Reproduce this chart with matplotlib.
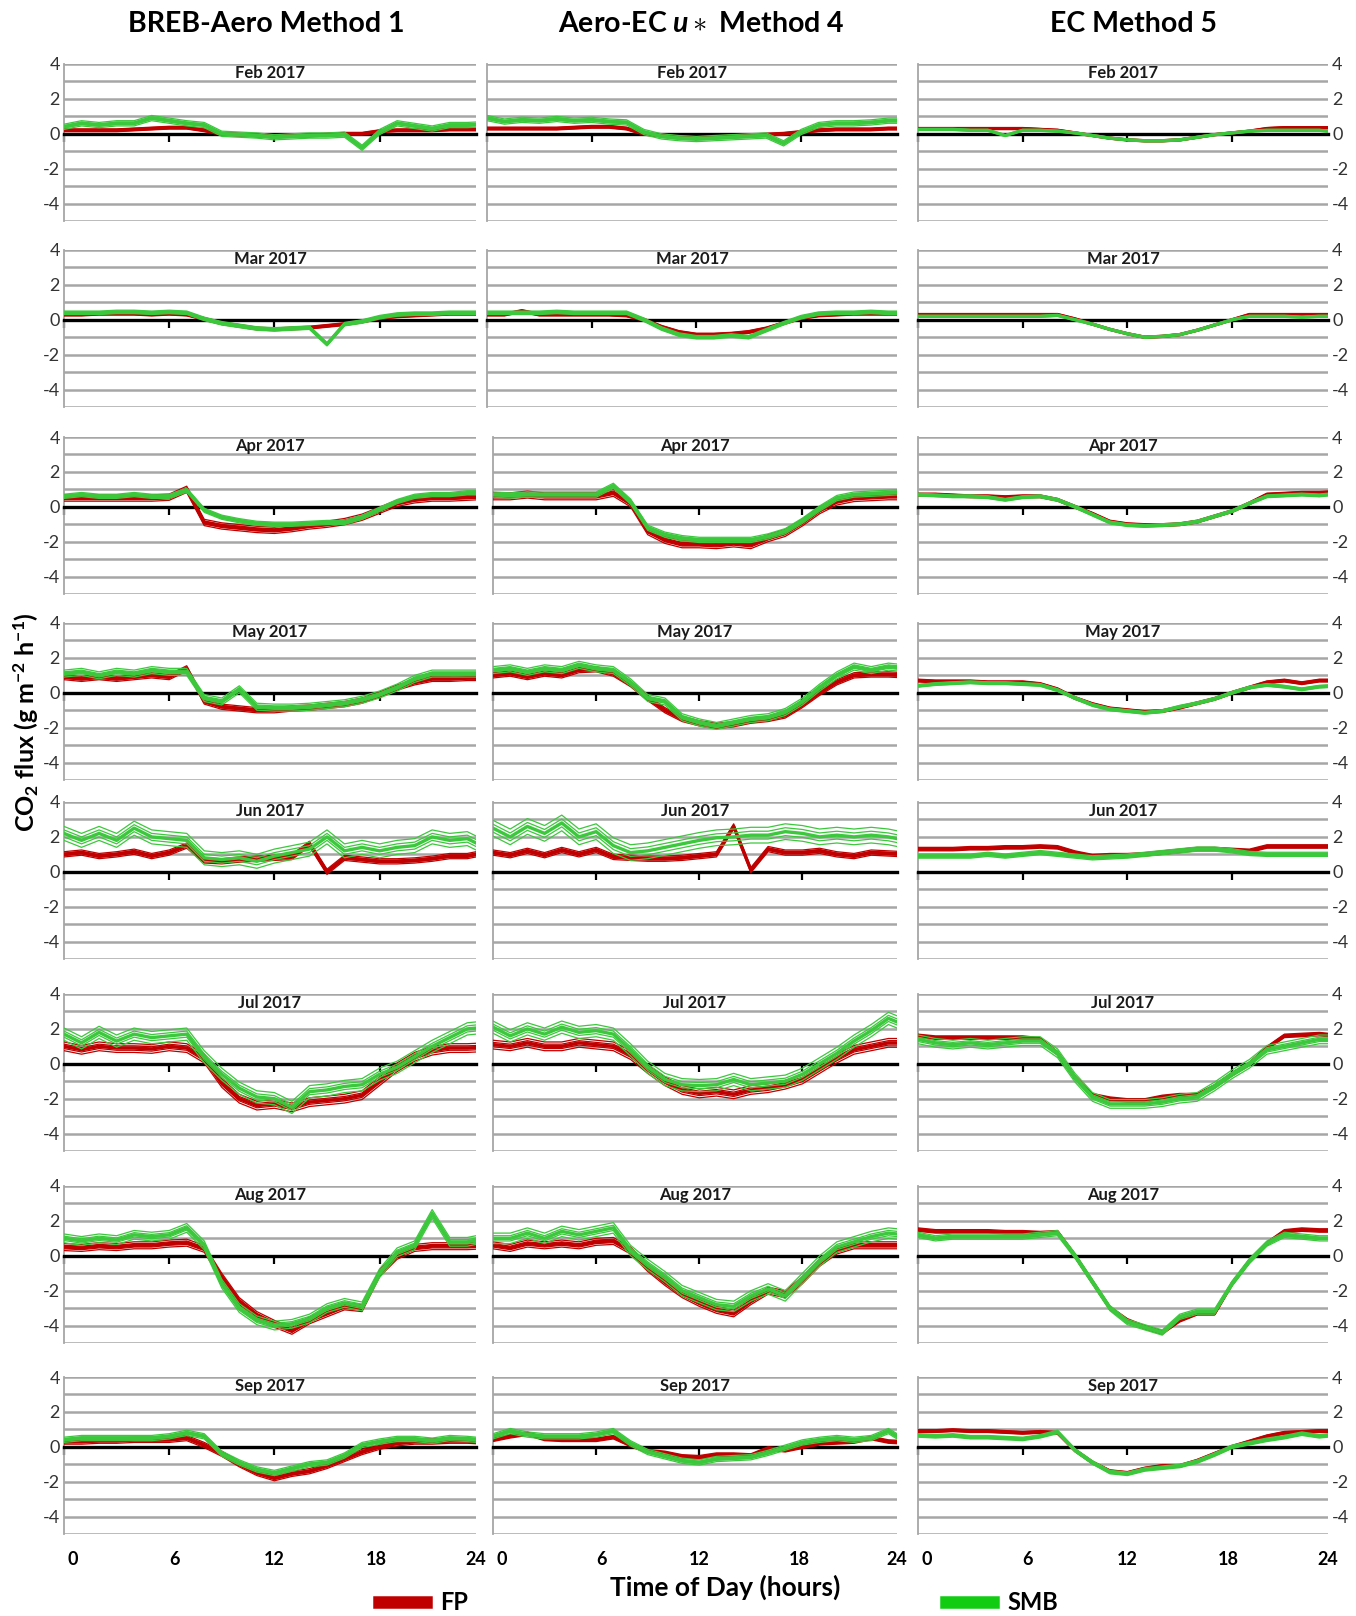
import numpy as np
import matplotlib
matplotlib.use('Agg')
import matplotlib.pyplot as plt
from matplotlib.lines import Line2D

plt.rcParams['font.family'] = ['Lato', 'DejaVu Sans']
plt.rcParams['axes.unicode_minus'] = False
plt.rcParams['mathtext.fontset'] = 'custom'
plt.rcParams['mathtext.rm'] = 'Lato:bold'
plt.rcParams['mathtext.bf'] = 'Lato:bold'
plt.rcParams['mathtext.it'] = 'Lato:bold:italic'

'''
Data read from the figure (hourly values, 0-24 h)
'''
hours = list(range(25))
months = ['Feb 2017', 'Mar 2017', 'Apr 2017', 'May 2017',
          'Jun 2017', 'Jul 2017', 'Aug 2017', 'Sep 2017']
methods = ['BREB-Aero Method 1', r'Aero-EC $u\ast$ Method 4', 'EC Method 5']

# Feb
feb_m1_fp = [0.2,0.2,0.2,0.2,0.25,0.3,0.35,0.35,0.2,0.0,-0.05,-0.1,-0.15,-0.1,-0.1,-0.05,0.0,0.0,0.15,0.2,0.2,0.2,0.25,0.25,0.25]
feb_m1_smb = [0.4,0.6,0.5,0.6,0.6,0.9,0.75,0.6,0.5,0.0,-0.05,-0.1,-0.2,-0.15,-0.1,-0.1,-0.05,-0.8,0.1,0.6,0.45,0.3,0.5,0.5,0.55]
feb_m4_fp = [0.3,0.3,0.3,0.3,0.3,0.35,0.4,0.4,0.3,0.0,-0.1,-0.2,-0.25,-0.2,-0.15,-0.1,-0.05,0.0,0.1,0.2,0.25,0.25,0.25,0.3,0.3]
feb_m4_smb = [0.9,0.7,0.8,0.75,0.85,0.75,0.8,0.7,0.65,0.1,-0.15,-0.25,-0.3,-0.25,-0.2,-0.15,-0.1,-0.55,0.1,0.5,0.6,0.6,0.65,0.75,0.75]
feb_m5_fp = [0.3,0.3,0.3,0.3,0.3,0.3,0.3,0.25,0.2,0.05,-0.1,-0.25,-0.35,-0.4,-0.4,-0.35,-0.2,-0.05,0.05,0.15,0.3,0.35,0.35,0.35,0.35]
feb_m5_smb = [0.25,0.25,0.25,0.2,0.2,-0.1,0.2,0.2,0.15,0.05,-0.1,-0.25,-0.35,-0.4,-0.4,-0.35,-0.2,-0.05,0.05,0.15,0.2,0.2,0.2,0.2,0.1]

# Mar
mar_m1_fp = [0.3,0.3,0.35,0.35,0.35,0.3,0.35,0.3,0.05,-0.2,-0.35,-0.5,-0.55,-0.5,-0.45,-0.35,-0.25,-0.1,0.1,0.2,0.25,0.3,0.35,0.35,0.35]
mar_m1_smb = [0.4,0.4,0.4,0.45,0.45,0.4,0.45,0.4,0.05,-0.2,-0.35,-0.5,-0.55,-0.5,-0.45,-1.4,-0.25,-0.1,0.15,0.3,0.35,0.35,0.4,0.4,0.4]
mar_m4_fp = [0.3,0.3,0.5,0.3,0.3,0.3,0.3,0.3,0.25,0.0,-0.4,-0.7,-0.85,-0.85,-0.8,-0.7,-0.5,-0.2,0.1,0.25,0.3,0.35,0.35,0.35,0.35]
mar_m4_smb = [0.4,0.4,0.4,0.4,0.45,0.4,0.4,0.4,0.4,0.0,-0.5,-0.85,-1.0,-1.0,-0.9,-1.0,-0.6,-0.2,0.15,0.35,0.4,0.4,0.45,0.4,0.4]
mar_m5_fp = [0.3,0.3,0.3,0.3,0.3,0.3,0.3,0.3,0.3,0.05,-0.25,-0.55,-0.8,-1.0,-0.95,-0.85,-0.6,-0.3,0.0,0.3,0.3,0.3,0.3,0.3,0.3]
mar_m5_smb = [0.2,0.2,0.2,0.2,0.2,0.2,0.2,0.2,0.25,0.0,-0.25,-0.55,-0.8,-1.0,-0.95,-0.85,-0.6,-0.3,0.0,0.2,0.2,0.2,0.15,0.2,0.2]

# Apr
apr_m1_fp = [0.5,0.5,0.5,0.5,0.5,0.5,0.55,1.0,-0.9,-1.1,-1.2,-1.3,-1.35,-1.25,-1.1,-1.0,-0.85,-0.6,-0.2,0.2,0.4,0.5,0.5,0.55,0.6]
apr_m1_smb = [0.6,0.7,0.6,0.6,0.7,0.6,0.6,0.95,-0.2,-0.6,-0.8,-0.95,-1.0,-1.0,-0.95,-0.9,-0.9,-0.6,-0.15,0.3,0.6,0.7,0.7,0.8,0.8]
apr_m4_fp = [0.6,0.6,0.7,0.6,0.6,0.6,0.6,0.8,0.2,-1.4,-1.9,-2.15,-2.15,-2.2,-2.1,-2.2,-1.8,-1.5,-0.9,-0.2,0.3,0.5,0.55,0.6,0.6]
apr_m4_smb = [0.7,0.65,0.7,0.7,0.7,0.7,0.7,1.2,0.3,-1.2,-1.6,-1.8,-1.9,-1.9,-1.9,-1.9,-1.7,-1.4,-0.8,-0.1,0.5,0.7,0.75,0.8,0.85]
apr_m5_fp = [0.7,0.7,0.65,0.6,0.6,0.55,0.6,0.6,0.4,0.0,-0.4,-0.85,-1.0,-1.05,-1.05,-1.0,-0.85,-0.55,-0.25,0.2,0.7,0.75,0.8,0.8,0.85]
apr_m5_smb = [0.7,0.65,0.6,0.6,0.55,0.4,0.55,0.6,0.4,0.0,-0.45,-0.9,-1.05,-1.1,-1.05,-1.0,-0.85,-0.55,-0.25,0.2,0.6,0.65,0.7,0.65,0.75]

# May
may_m1_fp = [0.9,0.8,0.9,0.8,0.9,1.0,0.9,1.4,-0.5,-0.8,-0.9,-1.0,-1.0,-0.9,-0.85,-0.75,-0.65,-0.45,-0.1,0.3,0.6,0.8,0.8,0.85,0.85]
may_m1_smb = [1.1,1.2,1.0,1.2,1.1,1.3,1.2,1.2,-0.3,-0.5,0.2,-0.8,-0.85,-0.85,-0.8,-0.7,-0.6,-0.4,-0.1,0.3,0.8,1.1,1.1,1.1,1.1]
may_m4_fp = [1.0,1.1,0.9,1.1,1.0,1.3,1.35,1.1,0.5,-0.3,-1.0,-1.5,-1.75,-1.9,-1.8,-1.6,-1.5,-1.3,-0.7,0.0,0.6,1.0,1.05,1.05,1.0]
may_m4_smb = [1.3,1.4,1.2,1.4,1.3,1.6,1.4,1.3,0.6,-0.3,-0.5,-1.4,-1.7,-1.9,-1.7,-1.5,-1.4,-1.1,-0.5,0.3,1.0,1.5,1.3,1.5,1.4]
may_m5_fp = [0.7,0.65,0.65,0.65,0.6,0.6,0.6,0.5,0.2,-0.3,-0.65,-0.9,-1.0,-1.1,-1.05,-0.85,-0.6,-0.35,0.0,0.3,0.6,0.7,0.55,0.7,0.7]
may_m5_smb = [0.4,0.5,0.55,0.6,0.55,0.55,0.5,0.45,0.15,-0.3,-0.7,-0.95,-1.05,-1.15,-1.05,-0.8,-0.6,-0.35,0.0,0.3,0.45,0.35,0.2,0.35,0.4]

# Jun
jun_m1_fp = [1.0,1.1,0.9,1.0,1.15,0.9,1.1,1.5,0.65,0.6,0.7,0.75,0.8,0.85,1.6,0.0,0.8,0.7,0.6,0.6,0.65,0.75,0.9,0.9,1.1]
jun_m1_smb = [2.2,1.8,2.2,1.8,2.5,2.0,1.9,1.8,0.8,0.7,0.8,0.6,0.9,1.1,1.3,2.0,1.2,1.4,1.2,1.4,1.5,2.0,1.8,1.9,1.4]
jun_m4_fp = [1.1,0.95,1.2,0.95,1.25,1.0,1.25,0.85,0.8,0.75,0.75,0.8,0.9,1.0,2.6,0.1,1.3,1.1,1.1,1.2,1.0,0.9,1.1,1.05,1.0]
jun_m4_smb = [2.5,2.0,2.6,2.2,2.8,2.0,2.3,1.5,1.1,1.2,1.4,1.6,1.8,1.95,2.0,2.1,2.1,2.3,2.2,2.0,2.1,2.0,2.1,2.0,1.8]
jun_m5_fp = [1.3,1.3,1.3,1.35,1.35,1.4,1.4,1.45,1.4,1.1,0.9,0.95,0.95,1.0,1.1,1.2,1.3,1.3,1.25,1.2,1.45,1.45,1.45,1.45,1.45]
jun_m5_smb = [0.9,0.9,0.9,0.9,1.0,0.9,1.0,1.1,1.0,0.9,0.8,0.85,0.9,1.0,1.1,1.2,1.3,1.3,1.2,1.05,1.0,1.0,1.0,1.0,1.0]

# Jul
jul_m1_fp = [1.0,0.8,1.0,0.9,0.9,0.85,1.0,0.9,0.3,-1.1,-2.0,-2.4,-2.3,-2.5,-2.2,-2.1,-2.0,-1.8,-1.0,-0.2,0.4,0.75,0.9,0.9,0.95]
jul_m1_smb = [1.7,1.2,1.8,1.3,1.7,1.5,1.6,1.7,0.4,-0.6,-1.4,-1.9,-2.0,-2.5,-1.6,-1.5,-1.3,-1.2,-0.6,-0.2,0.4,1.0,1.5,2.0,2.1]
jul_m4_fp = [1.1,1.0,1.2,1.0,1.0,1.2,1.1,1.0,0.5,-0.3,-1.0,-1.5,-1.7,-1.6,-1.75,-1.5,-1.4,-1.2,-0.9,-0.3,0.3,0.8,1.0,1.2,1.2]
jul_m4_smb = [2.1,1.6,2.0,1.7,2.1,1.8,1.9,1.7,0.8,-0.2,-0.9,-1.2,-1.25,-1.2,-0.9,-1.2,-1.1,-1.0,-0.6,0.0,0.6,1.3,1.9,2.6,2.2]
jul_m5_fp = [1.6,1.5,1.5,1.5,1.5,1.5,1.5,1.4,0.6,-0.8,-1.8,-2.0,-2.1,-2.1,-1.9,-1.8,-1.8,-1.3,-0.6,0.0,0.9,1.6,1.65,1.7,1.6]
jul_m5_smb = [1.4,1.2,1.1,1.2,1.1,1.2,1.3,1.3,0.6,-0.8,-1.9,-2.3,-2.3,-2.3,-2.2,-2.0,-1.9,-1.3,-0.6,0.0,0.8,1.0,1.2,1.4,1.4]

# Aug
aug_m1_fp = [0.5,0.45,0.55,0.5,0.6,0.6,0.7,0.75,0.4,-1.2,-2.6,-3.4,-3.9,-4.3,-3.7,-3.3,-2.9,-3.0,-1.0,0.0,0.45,0.55,0.55,0.55,0.6]
aug_m1_smb = [1.0,0.85,1.0,0.9,1.2,1.1,1.2,1.6,0.6,-1.6,-3.0,-3.7,-4.0,-3.9,-3.6,-3.0,-2.7,-2.9,-1.0,0.2,0.6,2.4,0.8,0.8,1.0]
aug_m4_fp = [0.6,0.45,0.7,0.6,0.7,0.6,0.8,0.85,0.3,-0.7,-1.5,-2.2,-2.7,-3.1,-3.3,-2.6,-2.0,-2.2,-1.4,-0.4,0.3,0.6,0.6,0.6,0.6]
aug_m4_smb = [1.0,1.0,1.3,1.0,1.4,1.2,1.4,1.6,0.3,-0.5,-1.2,-2.0,-2.4,-2.8,-2.9,-2.3,-1.9,-2.3,-1.3,-0.3,0.5,0.8,1.1,1.3,1.2]
aug_m5_fp = [1.5,1.4,1.4,1.4,1.4,1.35,1.35,1.3,1.35,0.0,-1.5,-3.0,-3.7,-4.1,-4.4,-3.7,-3.3,-3.3,-1.6,-0.3,0.7,1.4,1.5,1.45,1.45]
aug_m5_smb = [1.2,1.0,1.1,1.1,1.1,1.1,1.1,1.2,1.3,0.0,-1.5,-3.0,-3.8,-4.1,-4.4,-3.5,-3.2,-3.2,-1.6,-0.3,0.7,1.2,1.1,1.0,1.0]

# Sep
sep_m1_fp = [0.3,0.3,0.35,0.35,0.4,0.4,0.4,0.5,0.1,-0.4,-1.0,-1.5,-1.8,-1.55,-1.4,-1.1,-0.7,-0.3,0.0,0.2,0.3,0.3,0.35,0.35,0.3]
sep_m1_smb = [0.4,0.5,0.5,0.5,0.5,0.5,0.6,0.8,0.6,-0.4,-0.9,-1.3,-1.5,-1.25,-1.0,-0.9,-0.5,0.1,0.3,0.45,0.45,0.35,0.5,0.45,0.35]
sep_m4_fp = [0.4,0.6,0.75,0.45,0.4,0.4,0.4,0.55,0.1,-0.25,-0.35,-0.55,-0.6,-0.45,-0.45,-0.5,-0.1,-0.2,0.0,0.2,0.25,0.3,0.5,0.3,0.25]
sep_m4_smb = [0.6,0.9,0.7,0.6,0.6,0.6,0.7,0.9,0.2,-0.3,-0.55,-0.8,-0.9,-0.7,-0.65,-0.6,-0.35,-0.05,0.25,0.4,0.5,0.4,0.5,0.9,0.3]
sep_m5_fp = [0.9,0.9,0.95,0.9,0.9,0.85,0.8,0.85,0.8,-0.2,-0.9,-1.4,-1.5,-1.25,-1.1,-1.1,-0.8,-0.4,0.0,0.3,0.6,0.8,0.85,0.9,0.9]
sep_m5_smb = [0.65,0.6,0.65,0.55,0.55,0.5,0.45,0.6,0.85,-0.2,-0.9,-1.45,-1.55,-1.3,-1.2,-1.1,-0.85,-0.45,0.0,0.2,0.4,0.55,0.75,0.6,0.7]

# half width of the band of thin lines round each mean line (per month)
m1_fp_spread = [0.08, 0.08, 0.18, 0.15, 0.15, 0.25, 0.2, 0.15]
m1_smb_spread = [0.15, 0.1, 0.12, 0.2, 0.4, 0.35, 0.25, 0.15]
m4_fp_spread = [0.08, 0.08, 0.2, 0.15, 0.15, 0.25, 0.2, 0.1]
m4_smb_spread = [0.15, 0.1, 0.15, 0.2, 0.45, 0.35, 0.3, 0.15]
m5_fp_spread = [0.05, 0.05, 0.08, 0.08, 0.1, 0.1, 0.1, 0.08]
m5_smb_spread = [0.05, 0.05, 0.08, 0.08, 0.12, 0.25, 0.15, 0.1]

fp_data = [
    [feb_m1_fp, mar_m1_fp, apr_m1_fp, may_m1_fp, jun_m1_fp, jul_m1_fp, aug_m1_fp, sep_m1_fp],
    [feb_m4_fp, mar_m4_fp, apr_m4_fp, may_m4_fp, jun_m4_fp, jul_m4_fp, aug_m4_fp, sep_m4_fp],
    [feb_m5_fp, mar_m5_fp, apr_m5_fp, may_m5_fp, jun_m5_fp, jul_m5_fp, aug_m5_fp, sep_m5_fp],
]
smb_data = [
    [feb_m1_smb, mar_m1_smb, apr_m1_smb, may_m1_smb, jun_m1_smb, jul_m1_smb, aug_m1_smb, sep_m1_smb],
    [feb_m4_smb, mar_m4_smb, apr_m4_smb, may_m4_smb, jun_m4_smb, jul_m4_smb, aug_m4_smb, sep_m4_smb],
    [feb_m5_smb, mar_m5_smb, apr_m5_smb, may_m5_smb, jun_m5_smb, jul_m5_smb, aug_m5_smb, sep_m5_smb],
]
fp_spread = [m1_fp_spread, m4_fp_spread, m5_fp_spread]
smb_spread = [m1_smb_spread, m4_smb_spread, m5_smb_spread]

'''
Layout (pixels)
'''
W, H = 1356, 1616
row_top = [64, 250, 437, 623, 802, 994, 1186, 1377]
row_h = 157
col_right = [476, 897, 1328]

RED = '#c00000'
GREEN = '#3cc83c'
GRID = '#a6a6a6'

fig = plt.figure(figsize=(W / 100, H / 100), dpi=100)


def draw_series(ax, y, spread, color, z):
    y = np.array(y)
    ax.plot(hours, y, color=color, lw=2.4, zorder=z, solid_joinstyle='round')
    for k in [0.5, 1.0]:
        ax.plot(hours, y + k * spread, color=color, lw=0.9, zorder=z)
        ax.plot(hours, y - k * spread, color=color, lw=0.9, zorder=z)


for c in range(3):
    for r in range(8):
        if c == 0:
            left = 64
        elif c == 1:
            left = 487 if r < 2 else 493
        else:
            left = 918
        width = col_right[c] - left
        ax = fig.add_axes([left / W, 1 - (row_top[r] + row_h) / H, width / W, row_h / H])

        draw_series(ax, fp_data[c][r], fp_spread[c][r], RED, 3)
        draw_series(ax, smb_data[c][r], smb_spread[c][r], GREEN, 4)

        ax.set_xlim(0, 23.5)
        ax.set_ylim(-5, 4)
        ax.set_yticks([-4, -2, 0, 2, 4])
        ax.set_yticks([-5, -3, -1, 1, 3], minor=True)
        ax.grid(True, which='both', axis='y', color=GRID, lw=1.8, zorder=1)
        ax.set_axisbelow(True)

        ax.spines['top'].set_visible(False)
        ax.spines['right'].set_visible(False)
        ax.spines['left'].set_color(GRID)
        ax.spines['left'].set_linewidth(1.3)
        ax.spines['bottom'].set_position(('data', 0))
        ax.spines['bottom'].set_color('black')
        ax.spines['bottom'].set_linewidth(2.4)
        ax.spines['bottom'].set_zorder(2.5)

        ax.set_xticks([0, 6, 12, 18])
        ax.tick_params(axis='x', which='both', direction='out', length=6, width=1.6,
                       color='black', labelbottom=False)
        ax.tick_params(axis='y', which='both', length=0, labelsize=13,
                       labelcolor='#333333', pad=3)
        if c == 0:
            ax.tick_params(axis='y', labelleft=True, labelright=False)
        elif c == 1:
            ax.tick_params(axis='y', labelleft=False, labelright=False)
        else:
            ax.yaxis.tick_right()
            ax.tick_params(axis='y', which='both', length=0, labelsize=13,
                           labelcolor='#333333', pad=3)

        ax.text(0.5, 0.945, months[r], transform=ax.transAxes, ha='center', va='center',
                fontsize=12, fontweight='bold', color='#1a1a1a', zorder=6)

        if r == 7:
            sec = ax.secondary_xaxis('bottom')
            sec.set_xticks([0.5, 6.3, 12, 17.8, 23.5])
            sec.set_xticklabels(['0', '6', '12', '18', '24'])
            sec.spines['bottom'].set_visible(False)
            sec.tick_params(length=0, pad=12, labelsize=13)
            for t in sec.get_xticklabels():
                t.set_fontweight('bold')

# column titles
col_title_x = [266, 701, 1134]
for c in range(3):
    fig.text(col_title_x[c] / W, 1 - 24 / H, methods[c], ha='center', va='center',
             fontsize=20.5, fontweight='bold')

fig.text(26 / W, 1 - 722 / H, r'CO$_\mathbf{2}$ flux (g m$^\mathbf{-2}$ h$^\mathbf{-1}$)',
         rotation=90, ha='center', va='center', fontsize=18, fontweight='bold')
fig.text(725 / W, 1 - 1587 / H, 'Time of Day (hours)', ha='center', va='center',
         fontsize=19, fontweight='bold')

# legend
fig.legend(handles=[Line2D([], [], color=RED, lw=9)], labels=['FP'],
           loc='center left', bbox_to_anchor=(379 / W, 1 - 1603 / H), frameon=False,
           borderaxespad=0, borderpad=0, handlelength=2.0, handletextpad=0.6,
           prop={'weight': 'bold', 'size': 17})
fig.legend(handles=[Line2D([], [], color='#11cc11', lw=9)], labels=['SMB'],
           loc='center left', bbox_to_anchor=(946 / W, 1 - 1603 / H), frameon=False,
           borderaxespad=0, borderpad=0, handlelength=2.0, handletextpad=0.6,
           prop={'weight': 'bold', 'size': 17})

plt.savefig('out.png', dpi=100)
